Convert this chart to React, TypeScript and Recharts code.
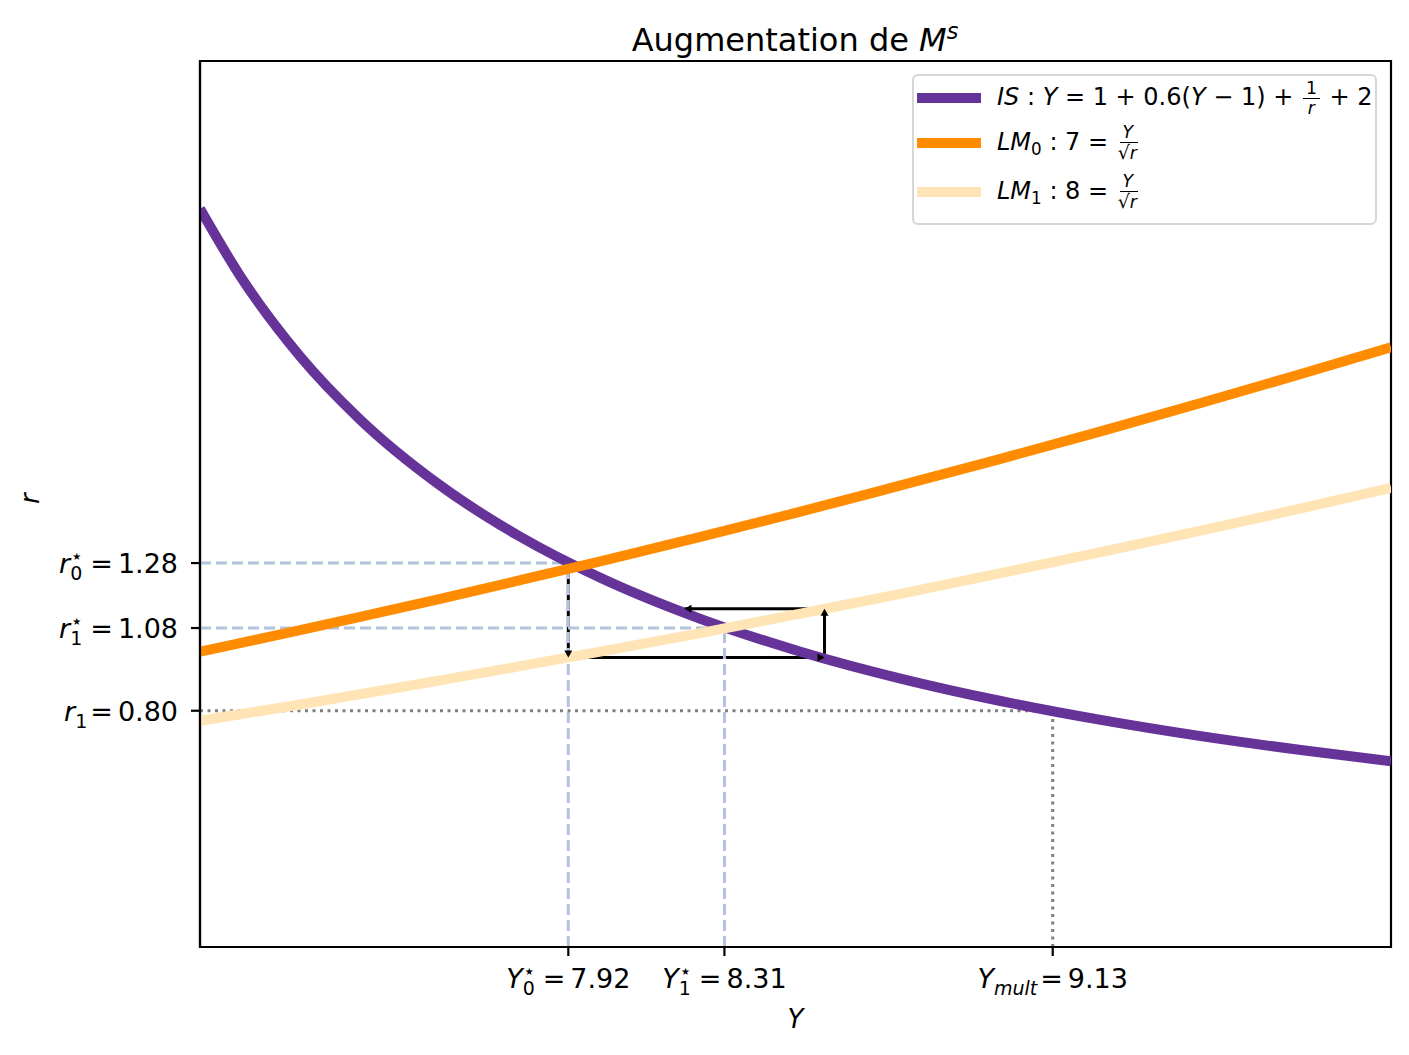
import React from 'react';
import { LineChart, Line, XAxis, YAxis, Legend, ReferenceArea } from 'recharts';

// sampled curves (Y on the x axis, r on the y axis)
const yValues = [7.0, 7.1, 7.25, 7.4, 7.6, 7.8, 8.0, 8.25, 8.5, 8.75, 9.0, 9.25, 9.5, 9.75, 9.975];
const isValues = [2.5, 2.273, 2.0, 1.786, 1.563, 1.389, 1.25, 1.111, 1.0, 0.909, 0.833, 0.769, 0.714, 0.667, 0.629];
const lm0Values = [1.0, 1.029, 1.073, 1.118, 1.179, 1.242, 1.306, 1.389, 1.474, 1.563, 1.653, 1.746, 1.842, 1.94, 2.031];
const lm1Values = [0.766, 0.788, 0.821, 0.856, 0.903, 0.951, 1.0, 1.063, 1.129, 1.196, 1.266, 1.337, 1.41, 1.485, 1.555];

const yDomain = [7, 9.975];
const rDomain = [0, 3];

// x ticks
const yTickValues = [7.92, 8.31, 9.13];
const yTickSubs = ['0', '1', 'mult'];
const yTickStars = [true, true, false];
const yTickTexts = ['7.92', '8.31', '9.13'];

// y ticks
const rTickValues = [1.3, 1.08, 0.8];
const rTickSubs = ['0', '1', '1'];
const rTickStars = [true, true, false];
const rTickTexts = ['1.28', '1.08', '0.80'];

// equilibria, multiplier point, adjustment path
const eqY = [7.92, 8.31];
const eqR = [1.3, 1.08];
const multY = 9.13;
const multR = 0.8;
const adjY = [7.92, 7.92, 8.56, 8.56, 8.21];
const adjR = [1.3, 0.98, 0.98, 1.145, 1.145];

const chartData = yValues.map((Y, i) => ({ Y, IS: isValues[i], LM0: lm0Values[i], LM1: lm1Values[i] }));

const blueGuides = eqY.flatMap((Y, i) => [
  [{ Y: yDomain[0], r: eqR[i] }, { Y, r: eqR[i] }],
  [{ Y, r: rDomain[0] }, { Y, r: eqR[i] }],
]);
const grayGuides = [
  [{ Y: yDomain[0], r: multR }, { Y: multY, r: multR }],
  [{ Y: multY, r: rDomain[0] }, { Y: multY, r: multR }],
];
const arrowSegments = adjY.slice(1).map((Y, i) => [
  { Y: adjY[i], r: adjR[i] },
  { Y, r: adjR[i + 1] },
]);

const FONT = 'DejaVu Sans, sans-serif';
const COLORS = { IS: '#663399', LM0: '#ff8c00', LM1: '#ffe4b5' };

// symbol with subscript and optional star, then "= value"
const MathLabel = ({ sym, sub, star, text }: { sym: string; sub: string; star: boolean; text: string }) => (
  <>
    <tspan fontStyle="italic">{sym}</tspan>
    <tspan fontSize={19} dy={7} fontStyle={sub === 'mult' ? 'italic' : 'normal'}>{sub}</tspan>
    {star && <tspan fontSize={10} dx={-10} dy={-20}>★</tspan>}
    <tspan dx={star ? 9 : 3} dy={star ? 13 : -7}>=</tspan>
    <tspan dx={5}>{text}</tspan>
  </>
);

const XTick = (props: any) => {
  const { x, y, payload } = props;
  const i = yTickValues.indexOf(payload.value);
  if (i < 0) return null;
  return (
    <text x={x} y={y + 30} textAnchor="middle" fontFamily={FONT} fontSize={27} fill="#000">
      <MathLabel sym="Y" sub={yTickSubs[i]} star={yTickStars[i]} text={yTickTexts[i]} />
    </text>
  );
};

const RTick = (props: any) => {
  const { x, y, payload } = props;
  const i = rTickValues.indexOf(payload.value);
  if (i < 0) return null;
  return (
    <text x={x - 11} y={y + 10} textAnchor="end" fontFamily={FONT} fontSize={27} fill="#000">
      <MathLabel sym="r" sub={rTickSubs[i]} star={rTickStars[i]} text={rTickTexts[i]} />
    </text>
  );
};

const arrowHead = (seg: { Y: number; r: number }[]) => (props: any) => {
  const { cx, cy, index } = props;
  if (index !== seg.length - 1) return <g key={`n${index}`} />;
  const dx = Math.sign(seg[1].Y - seg[0].Y);
  const dy = -Math.sign(seg[1].r - seg[0].r);
  const bx = cx - dx * 7;
  const by = cy - dy * 7;
  const px = -dy * 4;
  const py = dx * 4;
  return (
    <polygon
      key={`a${index}`}
      points={`${cx},${cy} ${bx + px},${by + py} ${bx - px},${by - py}`}
      fill="#000"
    />
  );
};

const Frac = ({ num, den }: { num: React.ReactNode; den: React.ReactNode }) => (
  <span
    style={{
      display: 'inline-flex',
      flexDirection: 'column',
      alignItems: 'center',
      verticalAlign: 'middle',
      fontSize: '0.72em',
      lineHeight: 1.05,
      margin: '0 2px',
    }}
  >
    <span style={{ padding: '0 3px', borderBottom: '1.5px solid #000' }}>{num}</span>
    <span>{den}</span>
  </span>
);

const SqrtR = () => (
  <span style={{ whiteSpace: 'nowrap' }}>
    <span style={{ fontSize: '1.1em' }}>√</span>
    <span style={{ borderTop: '1.5px solid #000', paddingRight: 1 }}><i>r</i></span>
  </span>
);

const legendRows = [
  {
    key: 'IS',
    center: 24,
    label: (
      <>
        <i>IS</i> : <i>Y</i> = 1 + 0.6(<i>Y</i> − 1) + <Frac num="1" den={<i>r</i>} /> + 2
      </>
    ),
  },
  {
    key: 'LM0',
    center: 69,
    label: (
      <>
        <i>LM</i><sub style={{ fontSize: '0.7em' }}>0</sub> : 7 = <Frac num={<i>Y</i>} den={<SqrtR />} />
      </>
    ),
  },
  {
    key: 'LM1',
    center: 118,
    label: (
      <>
        <i>LM</i><sub style={{ fontSize: '0.7em' }}>1</sub> : 8 = <Frac num={<i>Y</i>} den={<SqrtR />} />
      </>
    ),
  },
];

const LegendBox = () => (
  <div
    style={{
      position: 'relative',
      width: 465,
      height: 151,
      boxSizing: 'border-box',
      border: '2px solid #d6d6d6',
      borderRadius: 6,
      background: 'rgba(255,255,255,0.8)',
      fontFamily: FONT,
      fontSize: 24,
      color: '#000',
    }}
  >
    {legendRows.map((row) => (
      <React.Fragment key={row.key}>
        <div
          style={{
            position: 'absolute',
            left: 3,
            top: row.center - 5 - 2,
            width: 64,
            height: 10,
            background: COLORS[row.key as keyof typeof COLORS],
          }}
        />
        <div
          style={{
            position: 'absolute',
            left: 83,
            top: row.center - 22,
            height: 40,
            display: 'flex',
            alignItems: 'center',
            whiteSpace: 'nowrap',
          }}
        >
          <span>{row.label}</span>
        </div>
      </React.Fragment>
    ))}
  </div>
);

export default function App() {
  return (
    <div style={{ position: 'absolute', left: 0, top: 0, width: 1409, height: 1055, background: '#fff', fontFamily: FONT }}>
      <div
        style={{
          position: 'absolute',
          left: 200,
          width: 1190,
          top: 15,
          textAlign: 'center',
          fontSize: 32,
          lineHeight: '32px',
          color: '#000',
        }}
      >
        Augmentation de <i>M</i>
        <sup style={{ fontSize: '0.7em', fontStyle: 'italic', verticalAlign: '0.55em' }}>s</sup>
      </div>
      <LineChart width={1409} height={1055} data={chartData} margin={{ top: 61, right: 18, bottom: 8, left: 10 }}>
        <XAxis
          dataKey="Y"
          type="number"
          domain={yDomain}
          allowDataOverflow
          ticks={yTickValues}
          interval={0}
          tick={<XTick />}
          tickSize={9}
          height={100}
          axisLine={{ stroke: '#000', strokeWidth: 2.2 }}
          tickLine={{ stroke: '#000', strokeWidth: 2.2 }}
          label={{ value: 'Y', position: 'insideBottom', offset: 19, fontStyle: 'italic', fontSize: 26, fill: '#000', fontFamily: FONT }}
        />
        <YAxis
          type="number"
          domain={rDomain}
          allowDataOverflow
          ticks={rTickValues}
          interval={0}
          tick={<RTick />}
          tickSize={9}
          width={190}
          axisLine={{ stroke: '#000', strokeWidth: 2.2 }}
          tickLine={{ stroke: '#000', strokeWidth: 2.2 }}
          label={{ value: 'r', angle: -90, position: 'insideLeft', offset: 20, fontStyle: 'italic', fontSize: 26, fill: '#000', fontFamily: FONT }}
        />
        {arrowSegments.map((seg, i) => (
          <Line
            key={`arrow${i}`}
            data={seg}
            dataKey="r"
            type="linear"
            stroke="#000"
            strokeWidth={3}
            dot={arrowHead(seg)}
            activeDot={false}
            legendType="none"
            isAnimationActive={false}
          />
        ))}
        {blueGuides.map((seg, i) => (
          <Line
            key={`blue${i}`}
            data={seg}
            dataKey="r"
            type="linear"
            stroke="#b0c4de"
            strokeWidth={3}
            strokeDasharray="11 5"
            dot={false}
            activeDot={false}
            legendType="none"
            isAnimationActive={false}
          />
        ))}
        {grayGuides.map((seg, i) => (
          <Line
            key={`gray${i}`}
            data={seg}
            dataKey="r"
            type="linear"
            stroke="#808080"
            strokeWidth={3}
            strokeDasharray="3 4.5"
            dot={false}
            activeDot={false}
            legendType="none"
            isAnimationActive={false}
          />
        ))}
        <Line dataKey="IS" type="monotone" stroke={COLORS.IS} strokeWidth={10} dot={false} activeDot={false} isAnimationActive={false} />
        <Line dataKey="LM0" type="monotone" stroke={COLORS.LM0} strokeWidth={10} dot={false} activeDot={false} isAnimationActive={false} />
        <Line dataKey="LM1" type="monotone" stroke={COLORS.LM1} strokeWidth={10} dot={false} activeDot={false} isAnimationActive={false} />
        <ReferenceArea x1={yDomain[0]} x2={yDomain[1]} y1={rDomain[0]} y2={rDomain[1]} fill="none" stroke="#000" strokeWidth={2.2} ifOverflow="visible" />
        <Legend
          layout="vertical"
          align="center"
          verticalAlign="middle"
          content={() => <LegendBox />}
          wrapperStyle={{ left: 912, top: 74, width: 465, height: 151 }}
        />
      </LineChart>
    </div>
  );
}
